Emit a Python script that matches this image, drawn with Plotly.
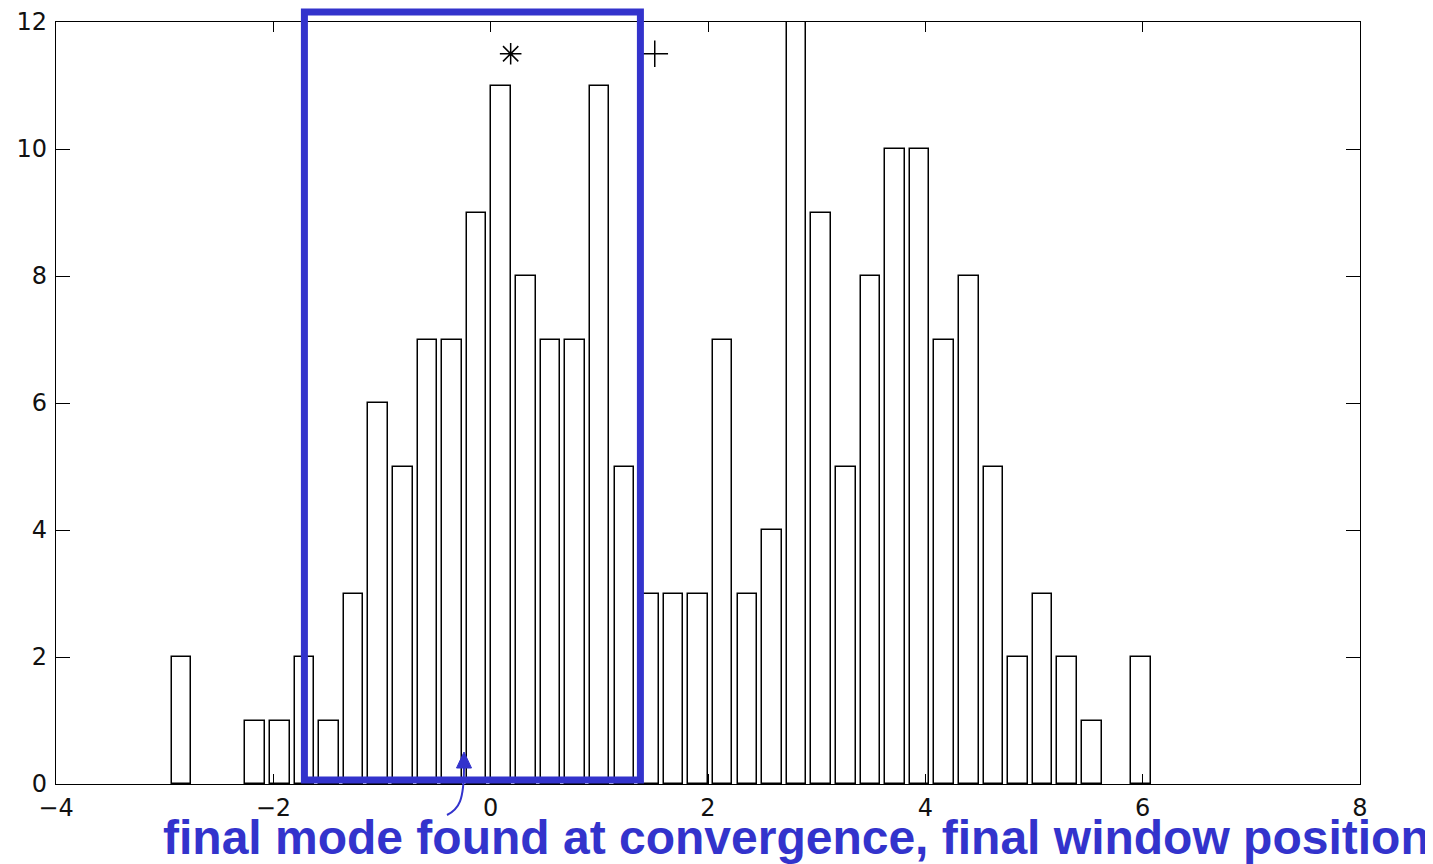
import plotly.graph_objects as go

# Histogram bin centers (40 bins) and counts
bin_centers = [-2.846, -2.620, -2.393, -2.167, -1.940, -1.714, -1.487, -1.261,
               -1.035, -0.808, -0.582, -0.355, -0.129, 0.098, 0.324, 0.550,
               0.777, 1.003, 1.230, 1.456, 1.682, 1.909, 2.135, 2.362,
               2.588, 2.814, 3.041, 3.267, 3.494, 3.720, 3.946, 4.173,
               4.399, 4.626, 4.852, 5.078, 5.305, 5.531, 5.758, 5.984]
counts = [2, 0, 0, 1, 1, 2, 1, 3, 6, 5, 7, 7, 9, 11, 8, 7, 7, 11, 5, 3,
          3, 3, 7, 3, 4, 12, 9, 5, 8, 10, 10, 7, 8, 5, 2, 3, 2, 1, 0, 2]

# Markers: final mode (*) and starting point (+)
mode_x = [0.184]
mode_y = [11.5]
start_x = [1.51]
start_y = [11.5]

# Final window (x extent in data units)
window_x = [-1.714, 1.378]

x_ticks = [-4, -2, 0, 2, 4, 6, 8]
y_ticks = [0, 2, 4, 6, 8, 10, 12]

caption = "final mode found at convergence, final window position"
BLUE = "#3333CC"

# page offset introduced by the default body margin of the html page
OX, OY = 7, 7
PLOT_L, PLOT_R, PLOT_T, PLOT_B = 55, 1359, 21, 783  # plot area in page pixels
PW, PH = PLOT_R - PLOT_L, PLOT_B - PLOT_T
W, H = 1433 - OX, 864 - OY
ML, MT = PLOT_L - OX, PLOT_T - OY
MR, MB = W - ML - PW, H - MT - PH


def px(xp):
    return (xp - PLOT_L) / PW


def py(yp):
    return (PLOT_B - yp) / PH


bin_width = bin_centers[1] - bin_centers[0]
nonzero = [(c, n) for c, n in zip(bin_centers, counts) if n > 0]

fig = go.Figure()
fig.add_trace(go.Bar(
    x=[c for c, _ in nonzero], y=[n for _, n in nonzero], width=0.8 * bin_width,
    marker=dict(color="white", line=dict(color="black", width=1.5)),
    showlegend=False,
))
fig.add_trace(go.Scatter(
    x=mode_x, y=mode_y, mode="markers",
    marker=dict(symbol="asterisk-open", size=18, color="black",
                line=dict(color="black", width=1.5)),
    showlegend=False,
))
fig.add_trace(go.Scatter(
    x=start_x, y=start_y, mode="markers",
    marker=dict(symbol="cross-thin-open", size=19, color="black",
                line=dict(color="black", width=1.5)),
    showlegend=False,
))

axis_common = dict(
    showgrid=False, zeroline=False, showline=True, linecolor="black",
    linewidth=1.3, mirror="allticks", ticks="inside", tickcolor="black",
    tickwidth=1.3, ticklabeloverflow="allow",
    tickfont=dict(family="DejaVu Sans", size=24, color="#111111"),
)

fig.update_layout(
    width=W, height=H,
    margin=dict(l=ML, r=MR, t=MT, b=MB, autoexpand=False),
    plot_bgcolor="white", paper_bgcolor="white",
    bargap=0,
    xaxis=dict(range=[-4, 8], tickvals=x_ticks, ticklen=10,
               ticklabelstandoff=2, **axis_common),
    yaxis=dict(range=[0, 12], tickvals=y_ticks, ticklen=14,
               ticklabelstandoff=3, **axis_common),
    shapes=[
        dict(type="rect", xref="x", yref="paper",
             x0=window_x[0], x1=window_x[1], y0=py(779), y1=py(11),
             line=dict(color=BLUE, width=7), fillcolor="rgba(0,0,0,0)"),
        dict(type="path", xref="paper", yref="paper",
             path=f"M {px(446)} {py(814)} C {px(458)} {py(808)} {px(463)} {py(800)} {px(463)} {py(765)}",
             line=dict(color=BLUE, width=2)),
        dict(type="path", xref="paper", yref="paper",
             path=f"M {px(463)} {py(751)} L {px(455.5)} {py(767)} L {px(470.5)} {py(767)} Z",
             line=dict(color=BLUE, width=1), fillcolor=BLUE),
    ],
    annotations=[
        dict(text=f"<b>{caption}</b>", xref="paper", yref="paper",
             x=px(160), y=py(836), xanchor="left", yanchor="middle",
             showarrow=False,
             font=dict(family="Liberation Sans", size=48, color=BLUE)),
    ],
)

fig.write_html("out.html")
